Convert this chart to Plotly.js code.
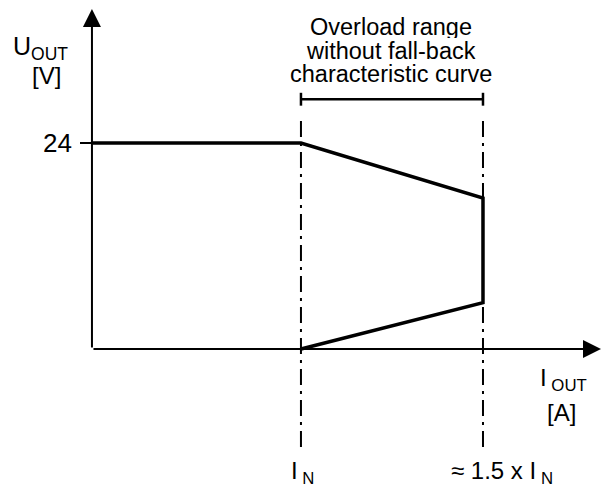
<!DOCTYPE html>
<html>
<head>
<meta charset="utf-8">
<script src="https://cdn.plot.ly/plotly-3.0.1.min.js"></script>
<style>
  body { margin: 0; background: #fff; }
  #chart { width: 604px; height: 488px; }
</style>
</head>
<body>
<div id="chart"></div>
<script>
// x in units of I_N (as drawn), y in volts
var curveX = [0, 1, 1.871, 1.871, 1];
var curveY = [24, 24, 17.6, 5.4, 0];

var markerX = [1, 1.871];          // I_N and ~1.5 x I_N guide lines
var markerLabels = ['I<sub> N</sub>', '\u2248 1.5 x I<sub> N</sub>'];
var guideTop = 27.15;
var guideBottom = -11.4;
var bracketY = 29.1;

var yTickValue = 24;
var rangeLines = ['Overload range', 'without fall-back', 'characteristic curve'];

var ink = '#000';
var family = 'Liberation Sans, Arial, Helvetica, sans-serif';
function f(size) { return { family: family, size: size, color: ink }; }

// screen pixel -> data helpers for placing labels
var xr = [-0.440, 2.450], yr = [-16.19, 40.66];
function px2x(px) { return xr[0] + px / 604 * (xr[1] - xr[0]); }
function px2y(py) { return yr[1] - py / 488 * (yr[1] - yr[0]); }

var curve = {
    x: curveX,
    y: curveY,
    mode: 'lines',
    line: { color: ink, width: 3.5 },
    hoverinfo: 'skip'
};

var shapes = [];
markerX.forEach(function (x) {
    shapes.push({
        type: 'line', xref: 'x', yref: 'y',
        x0: x, x1: x, y0: guideBottom, y1: guideTop,
        line: { color: ink, width: 2, dash: '16px,6px,3px,6px' }
    });
});
// bracket over the overload range
shapes.push({
    type: 'line', xref: 'x', yref: 'y',
    x0: markerX[0], x1: markerX[1], y0: bracketY, y1: bracketY,
    line: { color: ink, width: 2.5 }
});
markerX.forEach(function (x) {
    shapes.push({
        type: 'line', xref: 'x', yref: 'y',
        x0: x, x1: x, y0: bracketY - 0.75, y1: bracketY + 0.75,
        line: { color: ink, width: 2.5 }
    });
});
// tick at 24 V
shapes.push({
    type: 'line', xref: 'x', yref: 'y',
    x0: px2x(80), x1: 0, y0: yTickValue, y1: yTickValue,
    line: { color: ink, width: 2 }
});

function label(text, px, py, size, h) {
    var a = {
        x: px2x(px), y: px2y(py), xref: 'x', yref: 'y', text: text,
        showarrow: false, xanchor: 'center', yanchor: 'middle', font: f(size)
    };
    if (h) a.height = h;
    return a;
}

var annotations = [
    // axes with arrow heads
    { x: 0, y: px2y(9), ax: 0, ay: 0, axref: 'x', ayref: 'y', xref: 'x', yref: 'y',
      text: '', showarrow: true, arrowhead: 2, arrowsize: 1.8, arrowwidth: 2, arrowcolor: ink },
    { x: px2x(601), y: 0, ax: 0, ay: 0, axref: 'x', ayref: 'y', xref: 'x', yref: 'y',
      text: '', showarrow: true, arrowhead: 2, arrowsize: 1.8, arrowwidth: 2, arrowcolor: ink },
    { x: px2x(74), y: yTickValue, xref: 'x', yref: 'y', text: String(yTickValue),
      showarrow: false, xanchor: 'right', yanchor: 'middle', font: f(26) },
    label('U<sub>OUT</sub>', 40, 48, 25),
    label('[V]', 46, 75, 24),
    label('I<sub> OUT</sub>', 563, 379, 24),
    label('[A]', 561, 412, 24)
];
rangeLines.forEach(function (t, i) {
    annotations.push(label(t, 391, 27 + i * 23.5, 23.5, 22));
});
annotations.push(label(markerLabels[0], 302, 472, 24));
annotations.push(label(markerLabels[1], 502, 472, 24));

var hidden = {
    showgrid: false, zeroline: false, showline: false,
    showticklabels: false, ticks: '', fixedrange: true
};

var layout = {
    width: 604,
    height: 488,
    margin: { l: 0, r: 0, t: 0, b: 0 },
    paper_bgcolor: '#fff',
    plot_bgcolor: '#fff',
    showlegend: false,
    font: f(20),
    xaxis: Object.assign({ range: xr }, hidden),
    yaxis: Object.assign({ range: yr }, hidden),
    shapes: shapes,
    annotations: annotations
};

Plotly.newPlot('chart', [curve], layout, { displayModeBar: false });
</script>
</body>
</html>
